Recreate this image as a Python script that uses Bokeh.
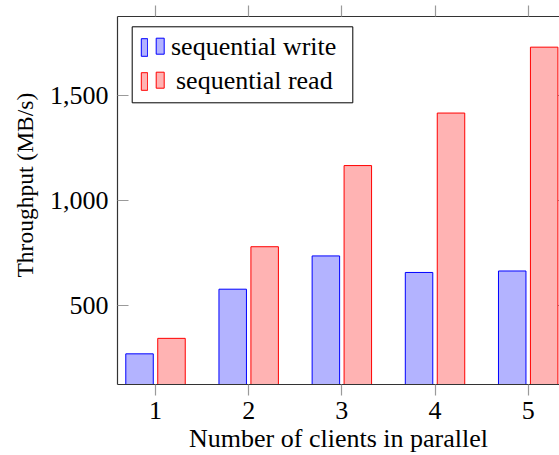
from bokeh.plotting import figure
from bokeh.models import (Range1d, FixedTicker, NumeralTickFormatter, LinearAxis,
                          Legend, LegendItem, Title, ColumnDataSource, BoxAnnotation)
from bokeh.embed import file_html
from bokeh.resources import INLINE
from bokeh.core.properties import value
from bokeh.transform import dodge

# ---- data ----
clients = [1, 2, 3, 4, 5]
seq_write = [267, 576, 735, 656, 663]
seq_read = [341, 779, 1167, 1418, 1733]
y_ticks = [500, 1000, 1500]
series_labels = ["sequential write", "sequential read"]
x_title = "Number of clients in parallel"
y_title = "Throughput (MB/s)"

FONT = "Liberation Serif"
AXIS_COL = "#333333"
TICK_COL = "#9a9a9a"
FILLS = ["#B3B3FF", "#FFB3B3"]
LINES = ["#0000FF", "#FF0000"]

lo = min(seq_write + seq_read)
hi = max(seq_write + seq_read)
pad = 0.1 * (hi - lo)

p = figure(width=559, height=455, output_backend="svg", toolbar_location=None,
           x_range=Range1d(0.592, 5.336),
           y_range=Range1d(lo - pad, hi + pad),
           min_border_left=117, min_border_right=0, min_border_top=16, min_border_bottom=70)
p.outline_line_color = None
p.grid.visible = False
p.background_fill_color = "white"
p.border_fill_color = "white"

src = ColumnDataSource(dict(x=clients, w=seq_write, r=seq_read))
rw = p.vbar(x=dodge("x", -0.1715), top="w", bottom=0, width=0.295, source=src,
            fill_color=FILLS[0], line_color=LINES[0], line_width=1)
rr = p.vbar(x=dodge("x", 0.1715), top="r", bottom=0, width=0.295, source=src,
            fill_color=FILLS[1], line_color=LINES[1], line_width=1)

# bottom axis
xa = p.xaxis[0]
xa.ticker = FixedTicker(ticks=clients)
xa.major_tick_out = 11
xa.major_tick_in = 0
xa.minor_tick_line_color = None
xa.axis_line_color = AXIS_COL
xa.axis_line_width = 1.2
xa.major_tick_line_color = TICK_COL
xa.major_tick_line_width = 1.2
xa.major_label_text_font = FONT
xa.major_label_text_font_size = "26px"
xa.major_label_text_color = "black"
xa.major_label_standoff = 6
xa.axis_label = x_title
xa.axis_label_text_font = FONT
xa.axis_label_text_font_size = "26px"
xa.axis_label_text_font_style = "normal"
xa.axis_label_text_color = "black"
xa.axis_label_standoff = 2

# left axis
ya = p.yaxis[0]
ya.ticker = FixedTicker(ticks=y_ticks)
ya.formatter = NumeralTickFormatter(format="0,0")
ya.major_tick_in = 11
ya.major_tick_out = 0
ya.minor_tick_line_color = None
ya.axis_line_color = AXIS_COL
ya.axis_line_width = 1.2
ya.major_tick_line_color = TICK_COL
ya.major_tick_line_width = 1.2
ya.major_label_text_font = FONT
ya.major_label_text_font_size = "26px"
ya.major_label_text_color = "black"
ya.major_label_standoff = 9

# y title, placed left of the axis
yt = Title(text=y_title, align="left", offset=107, vertical_align="top", standoff=14,
           text_font=FONT, text_font_size="23.5px", text_font_style="normal",
           text_color="black")
p.add_layout(yt, "left")

# top axis (ticks only)
ta = LinearAxis(ticker=FixedTicker(ticks=clients), major_tick_out=11, major_tick_in=0,
                major_label_text_font_size="0px", major_label_text_color=None,
                major_label_standoff=0,
                minor_tick_line_color=None, axis_line_color=AXIS_COL, axis_line_width=1.2,
                major_tick_line_color=TICK_COL, major_tick_line_width=1.2)
p.add_layout(ta, "above")

# right axis (ticks only, under bars)
ra = LinearAxis(ticker=FixedTicker(ticks=y_ticks), major_tick_in=5, major_tick_out=0,
                major_label_text_font_size="0px", major_label_text_color=None,
                major_label_standoff=0,
                minor_tick_line_color=None, axis_line_color=None,
                major_tick_line_color=TICK_COL, major_tick_line_width=1.2, level="underlay")
p.add_layout(ra, "right")

# ---- legend (pgfplots ybar style: a tall and a short bar per entry) ----
LX = 23.0                    # left of first legend bar, px from frame left
ROW_TOPS = [352.3, 318.3]    # top of each legend row, px above frame bottom
GW, GH, ROW = 8, 22, 30
SECOND_DX, SECOND_H = 15.7, 16
STANDOFFS = [23, 28]
BOX = dict(left=LX - 8.3, right=LX + 212.3, top=ROW_TOPS[0] + 5.4, bottom=ROW_TOPS[1] - 36.6)

p.add_layout(BoxAnnotation(left_units="screen", right_units="screen",
                           top_units="screen", bottom_units="screen",
                           fill_color="white", fill_alpha=1,
                           line_color="black", line_alpha=1, line_width=1,
                           level="underlay", **BOX))

for i, (lab, rend) in enumerate(zip(series_labels, [rw, rr])):
    leg = Legend(items=[LegendItem(label=value(lab), renderers=[rend])],
                 location=(LX, ROW_TOPS[i] - ROW), orientation="vertical",
                 margin=0, padding=0, spacing=0,
                 glyph_width=GW, glyph_height=GH, label_standoff=STANDOFFS[i],
                 label_height=ROW, label_width=20,
                 label_text_font=FONT, label_text_font_size="26px", label_text_color="black",
                 border_line_color=None, background_fill_alpha=0)
    p.add_layout(leg, "center")
    left = LX + SECOND_DX
    bottom = ROW_TOPS[i] - GH
    p.add_layout(BoxAnnotation(left=left, right=left + GW, top=bottom + SECOND_H, bottom=bottom,
                               left_units="screen", right_units="screen",
                               top_units="screen", bottom_units="screen",
                               fill_color=FILLS[i], fill_alpha=1,
                               line_color=LINES[i], line_alpha=1, line_width=1,
                               level="overlay"))

open("out.html", "w").write(file_html(p, INLINE))
